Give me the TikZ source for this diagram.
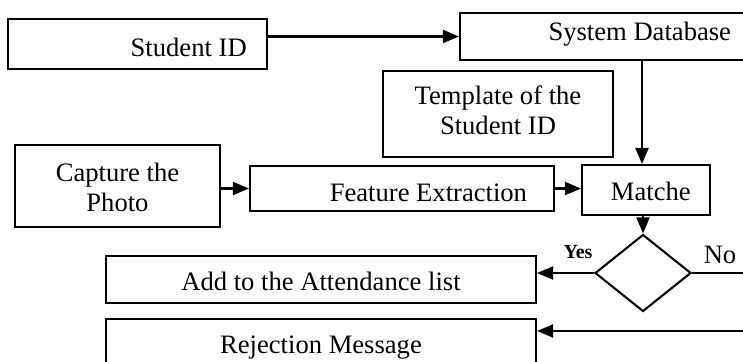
\documentclass[tikz,border=0pt]{standalone}
\usepackage{fontspec}
\setmainfont{Liberation Serif}
\usetikzlibrary{shapes.geometric,arrows.meta}
\begin{document}
\begin{tikzpicture}[x=1pt,y=-1pt,
  every node/.style={font=\fontsize{26.6}{30}\selectfont},
  box/.style={draw,line width=2.1pt,inner sep=0pt,rectangle},
  arr/.style={line width=2.1pt,-{Triangle[length=16pt,width=13pt]}},
  ln/.style={line width=2.1pt}]
\useasboundingbox (0,0) rectangle (743,361);
\clip (0,0) rectangle (743,361);
\node[box,minimum width=259pt,minimum height=50pt,inner xsep=20.3pt,text height=25.4pt,text depth=0pt] (sid) at (137.5,44) {\makebox[218.4pt][r]{Student ID}};
\node[box,minimum width=300pt,minimum height=47pt,inner xsep=29pt,text height=18pt,text depth=9pt] (sdb) at (610,36.5) {\makebox[242pt][r]{System Database}};
\node[box,minimum width=230pt,minimum height=86pt,align=center,text height=47pt,text depth=7pt] (tpl) at (498,114) {Template of the\\Student ID};
\node[box,minimum width=205pt,minimum height=82pt,align=center,text height=50pt,text depth=0pt] (cap) at (117.5,186) {Capture the\\Photo};
\node[box,minimum width=304pt,minimum height=45pt,inner xsep=27pt,text height=25pt,text depth=0pt] (fe) at (402,188.5) {\makebox[250pt][r]{Feature Extraction}};
\node[box,minimum width=128pt,minimum height=50pt,inner xsep=19.3pt,text height=21.4pt,text depth=0pt] (m) at (646,190) {\makebox[89.4pt][r]{Matche}};
\node[draw,line width=2.1pt,diamond,inner sep=0pt,minimum width=96pt,minimum height=77pt] (d) at (643,273) {};
\node[box,minimum width=430pt,minimum height=46.7pt,text height=23pt,text depth=0pt] (add) at (321,279.35) {Add to the Attendance list};
\node[box,minimum width=430pt,minimum height=80pt,text height=18pt,text depth=28.8pt] (rej) at (321,359) {Rejection Message};
\node[anchor=base,font=\fontsize{20}{24}\selectfont\bfseries,inner sep=0pt] (yes) at (578,258) {Yes};
\node[anchor=base,inner sep=0pt] (no) at (720,263) {No};
\coordinate (noend) at (748,273);
\coordinate (rejin) at (748,331);
\draw[arr] (sid.east |- sdb.west) -- (sdb.west);
\draw[arr] ([xshift=-4pt]m.north |- sdb.south) -- ([xshift=-4pt]m.north);
\draw[arr] (cap.east |- fe.west) -- (fe.west);
\draw[arr] (fe.east) -- (fe.east -| m.west);
\draw[arr] (d.north |- m.south) -- (d.north);
\draw[arr] (d.west) -- (d.west -| add.east);
\draw[ln] (d.east) -- (noend);
\draw[arr] (rejin) -- (rejin -| rej.east);
\end{tikzpicture}
\end{document}
